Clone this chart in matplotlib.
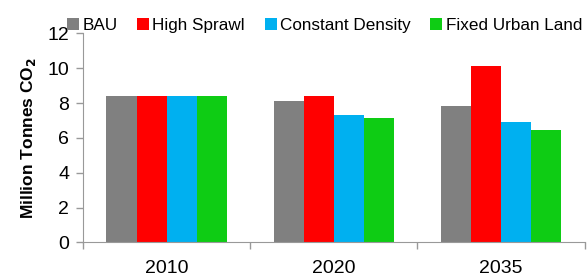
import matplotlib.pyplot as plt
import numpy as np

plt.rcParams["font.family"] = ["Liberation Sans", "DejaVu Sans"]

years = ["2010", "2020", "2035"]
series_names = ["BAU", "High Sprawl", "Constant Density", "Fixed Urban Land"]
bau = [8.4, 8.12, 7.85]
high_sprawl = [8.4, 8.4, 10.13]
constant_density = [8.4, 7.3, 6.9]
fixed_urban_land = [8.4, 7.14, 6.45]

colors = ["#808080", "#ff0000", "#00b0f0", "#0ecc14"]
axis_grey = "#999999"


def main() -> None:
    fig = plt.figure(figsize=(5.87, 2.79), dpi=100)
    ax = fig.add_axes([0.1414, 0.1315, 0.8546, 0.7485])

    x = np.arange(len(years))
    width = 0.18
    all_series = [bau, high_sprawl, constant_density, fixed_urban_land]
    for i, (name, vals) in enumerate(zip(series_names, all_series)):
        offset = (i - 1.5) * width
        ax.bar(x + offset, vals, width=width, color=colors[i], label=name,
               edgecolor="none", zorder=2)

    ax.set_xlim(-0.5, 2.5)
    ax.set_ylim(0, 12)
    ax.set_yticks([0, 2, 4, 6, 8, 10, 12])

    ax.set_xticks([-0.5, 0.5, 1.5, 2.5])
    ax.set_xticklabels([])
    ax.set_xticks(x, minor=True)
    ax.set_xticklabels(years, minor=True, fontsize=14)
    ax.tick_params(axis="x", which="major", length=5, color=axis_grey, width=1)
    ax.tick_params(axis="x", which="minor", length=0, pad=13)
    ax.tick_params(axis="y", length=5, color=axis_grey, width=1, labelsize=14, pad=5)

    ax.spines["top"].set_visible(False)
    ax.spines["right"].set_visible(False)
    ax.spines["left"].set_color(axis_grey)
    ax.spines["bottom"].set_color(axis_grey)

    ax.set_ylabel("Million Tonnes CO$_\\mathbf{2}$", fontsize=12.5, fontweight="bold", labelpad=7)

    fig.legend(
        loc="center left",
        bbox_to_anchor=(0.114, 0.91),
        ncol=4,
        frameon=False,
        fontsize=12.3,
        handlelength=0.7,
        handleheight=0.7,
        handletextpad=0.2,
        columnspacing=1.15,
        borderaxespad=0.0,
        borderpad=0.0,
    )

    fig.savefig("out.png", dpi=100)
    plt.close(fig)


if __name__ == "__main__":
    main()
